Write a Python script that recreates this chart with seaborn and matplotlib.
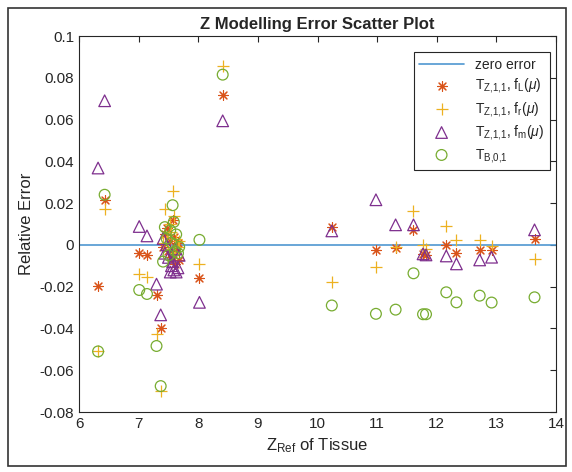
import numpy as np
import pandas as pd
import matplotlib
matplotlib.use('Agg')
import matplotlib.pyplot as plt
from matplotlib.patches import Rectangle
from matplotlib.ticker import FixedLocator, FuncFormatter
import seaborn as sns

# --- data ---
z_ref = [6.32, 6.43, 7.01, 7.14, 7.30, 7.37,
         7.41, 7.44, 7.47, 7.50, 7.53, 7.55, 7.57, 7.59, 7.61, 7.63, 7.66, 7.68,
         8.02, 8.41, 10.24, 10.98, 11.31, 11.61, 11.77, 11.82,
         12.16, 12.33, 12.72, 12.92, 13.64]

err_fL = [-0.0196, 0.0216, -0.0037, -0.0048, -0.024, -0.040,
          -0.001, 0.005, 0.008, -0.003, 0.002, -0.006, 0.012, 0.004, -0.009, -0.002, 0.001, -0.007,
          -0.016, 0.0716, 0.0085, -0.0024, -0.0016, 0.0072, -0.0045, -0.005,
          0.0, -0.004, -0.0024, -0.0024, 0.0027]

err_fr = [-0.051, 0.0171, -0.0139, -0.0152, -0.0427, -0.070,
          0.001, 0.017, 0.004, -0.002, 0.010, 0.006, 0.026, 0.014, -0.004, 0.003, -0.001, 0.002,
          -0.009, 0.0854, -0.018, -0.0104, -0.001, 0.016, 0.0, -0.002,
          0.0091, 0.0024, 0.0024, -0.0005, -0.0067]

err_fm = [0.0368, 0.069, 0.0088, 0.0043, -0.0188, -0.0335,
          0.003, -0.004, 0.0, -0.006, -0.013, -0.010, -0.008, -0.012, -0.002, -0.013, -0.011, -0.005,
          -0.0275, 0.0594, 0.0067, 0.0216, 0.0096, 0.0096, -0.0043, -0.0048,
          -0.0053, -0.0091, -0.0072, -0.0059, 0.0072]

err_B = [-0.051, 0.024, -0.0216, -0.0235, -0.0484, -0.0676,
         -0.008, 0.0085, 0.003, -0.005, 0.007, 0.001, 0.019, 0.011, -0.003, 0.005, -0.004, -0.001,
         0.0024, 0.0815, -0.029, -0.033, -0.031, -0.0136, -0.0332, -0.0332,
         -0.0227, -0.0275, -0.0243, -0.0276, -0.0251]

series_labels = [r'T$_{\mathrm{Z{,}1{,}1}}$, f$_{\mathrm{L}}$($\mu$)',
                 r'T$_{\mathrm{Z{,}1{,}1}}$, f$_{\mathrm{r}}$($\mu$)',
                 r'T$_{\mathrm{Z{,}1{,}1}}$, f$_{\mathrm{m}}$($\mu$)',
                 r'T$_{\mathrm{B{,}0{,}1}}$']

df = pd.DataFrame({'Z': z_ref, 'fL': err_fL, 'fr': err_fr, 'fm': err_fm, 'B': err_B})

# --- style ---
sns.set_style('white')
plt.rcParams['font.family'] = ['Liberation Sans', 'DejaVu Sans']
plt.rcParams['mathtext.fontset'] = 'custom'
plt.rcParams['mathtext.rm'] = 'Liberation Sans'
plt.rcParams['mathtext.it'] = 'Liberation Sans:italic'
plt.rcParams['axes.unicode_minus'] = False

fig = plt.figure(figsize=(5.72, 4.72), dpi=100)
ax = fig.add_axes([79 / 572, 1 - 412 / 472, (556 - 79) / 572, (412 - 36) / 472])

ax.axhline(0, color='#4f97d1', lw=1.2, label='zero error', zorder=1)

sns.scatterplot(data=df, x='Z', y='fL', ax=ax, marker=(8, 2, 0), s=50,
                color='#D95319', linewidth=0.8, label=series_labels[0], zorder=3)
sns.scatterplot(data=df, x='Z', y='fr', ax=ax, marker='+', s=70,
                color='#EDB120', linewidth=0.9, label=series_labels[1], zorder=3)
sns.scatterplot(data=df, x='Z', y='fm', ax=ax, marker='^', s=70,
                color='#7E2F8E', facecolors='none', edgecolor='#7E2F8E',
                linewidth=0.9, label=series_labels[2], zorder=3)
sns.scatterplot(data=df, x='Z', y='B', ax=ax, marker='o', s=60,
                color='#77AC30', facecolors='none', edgecolor='#77AC30',
                linewidth=0.9, label=series_labels[3], zorder=3)

ax.set_xlim(6, 14)
ax.set_ylim(-0.08, 0.1)
ax.xaxis.set_major_locator(FixedLocator(np.arange(6, 15, 1)))
ax.yaxis.set_major_locator(FixedLocator(np.round(np.arange(-0.08, 0.101, 0.02), 2)))
ax.yaxis.set_major_formatter(FuncFormatter(lambda v, p: f'{round(v, 2):g}'))
ax.tick_params(direction='in', top=True, right=True, length=4, width=0.8,
               labelsize=11, colors='#262626')
for sp in ax.spines.values():
    sp.set_color('#262626')
    sp.set_linewidth(0.8)

ax.set_title('Z Modelling Error Scatter Plot', fontsize=12, fontweight='bold', pad=5)
ax.set_xlabel(r'Z$_{\mathrm{Ref}}$ of Tissue', fontsize=12)
ax.set_ylabel('Relative Error', fontsize=12)

leg = ax.legend(loc='upper right', bbox_to_anchor=(0.987, 0.957), borderaxespad=0,
                fontsize=10, frameon=True, fancybox=False,
                framealpha=1, edgecolor='#262626',
                handlelength=3.2, labelspacing=0.32, borderpad=0.4)
leg.get_frame().set_linewidth(0.8)

# outer frame around the figure
fig.patches.append(Rectangle((8 / 572, 6 / 472), (566 - 8) / 572, (466 - 8) / 472,
                             transform=fig.transFigure, fill=False,
                             edgecolor='#333333', lw=1.2))

fig.savefig('out.png', dpi=100)
